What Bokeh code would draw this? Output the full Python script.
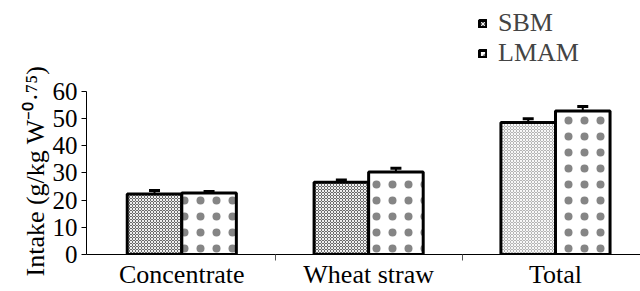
from bokeh.plotting import figure
from bokeh.models import ColumnDataSource, Whisker, TeeHead, FixedTicker, Legend, LegendItem, Title
from bokeh.embed import file_html
from bokeh.resources import INLINE

categories = ["Concentrate", "Wheat straw", "Total"]
sbm = [22.2, 26.5, 48.5]
sbm_err = [1.3, 0.9, 1.4]
lmam = [22.6, 30.3, 52.7]
lmam_err = [0.5, 1.4, 1.7]
y_ticks = [0, 10, 20, 30, 40, 50, 60]
y_label = "Intake (g/kg W\u207b\u2070\u00b7\u2077\u2075)"

FONT = "Liberation Serif"
xpos = [i + 1 for i in range(len(categories))]
off = 0.146
bw = 0.292

sbm_src = ColumnDataSource(dict(
    x=[v - off for v in xpos], top=sbm,
    up=[a + b for a, b in zip(sbm, sbm_err)],
    fill=["#6a6a6a", "#6a6a6a", "#b4b4b4"],
))
lmam_src = ColumnDataSource(dict(
    x=[v + off for v in xpos], top=lmam,
    up=[a + b for a, b in zip(lmam, lmam_err)],
))

# frame spans from canvas top to y=255; value 60 sits at y=91
frame_bottom = 255
top60 = 91
y_end = 60 * frame_bottom / (frame_bottom - top60)

p = figure(width=640, height=291, output_backend="svg", toolbar_location=None,
           x_range=(0.49, 3.455), y_range=(0, y_end),
           min_border_left=86, min_border_top=0, min_border_bottom=291 - frame_bottom,
           min_border_right=0)
p.outline_line_color = None
p.grid.visible = False
p.background_fill_color = "white"

r1 = p.vbar(x="x", top="top", width=bw, bottom=0, source=sbm_src,
            fill_color="fill", line_color="black", line_width=3,
            hatch_pattern="x", hatch_color="white", hatch_scale=3, hatch_weight=1, hatch_alpha=0.9)
r2 = p.vbar(x="x", top="top", width=bw, bottom=0, source=lmam_src,
            fill_color="white", line_color="black", line_width=3,
            hatch_pattern="dot", hatch_color="#858585", hatch_scale=16, hatch_weight=7)

for src in (sbm_src, lmam_src):
    w = Whisker(base="x", lower="top", upper="up", source=src,
                line_color="black", line_width=2,
                upper_head=TeeHead(size=11, line_width=3, line_color="black"),
                lower_head=None)
    p.add_layout(w)

# axes
p.yaxis.ticker = FixedTicker(ticks=y_ticks)
p.yaxis.bounds = (0, 60)
p.yaxis.major_label_text_font = FONT
p.yaxis.major_label_text_font_size = "25px"
p.yaxis.major_label_text_color = "black"
p.yaxis.major_tick_out = 5
p.yaxis.major_tick_in = 0
p.yaxis.minor_tick_line_color = None
p.yaxis.axis_line_color = "black"
p.yaxis.major_label_standoff = 4

ytitle = Title(text=y_label, align="left", offset=-22, text_font=FONT,
               text_font_size="26px", text_font_style="normal", text_color="black",
               standoff=0)
p.add_layout(ytitle, "left")

p.xaxis.ticker = FixedTicker(ticks=xpos, minor_ticks=[1.5, 2.5])
p.xaxis.major_label_overrides = {x: c for x, c in zip(xpos, categories)}
p.xaxis.major_label_text_font = FONT
p.xaxis.major_label_text_font_size = "26px"
p.xaxis.major_label_text_color = "black"
p.xaxis.major_tick_out = 0
p.xaxis.major_tick_in = 0
p.xaxis.minor_tick_out = 6
p.xaxis.minor_tick_in = 0
p.xaxis.minor_tick_line_color = "#555555"
p.xaxis.major_label_standoff = -1
p.xaxis.axis_line_color = "black"

legend = Legend(items=[LegendItem(label="SBM", renderers=[r1], index=0),
                       LegendItem(label="LMAM", renderers=[r2])],
                location=(392, 186), orientation="vertical",
                label_text_font=FONT, label_text_font_size="26px",
                glyph_width=9, glyph_height=9, label_height=24,
                spacing=-5, padding=0, margin=0, border_line_color=None,
                background_fill_alpha=0, label_standoff=11)
p.add_layout(legend, "center")

open("out.html", "w").write(file_html(p, INLINE))
